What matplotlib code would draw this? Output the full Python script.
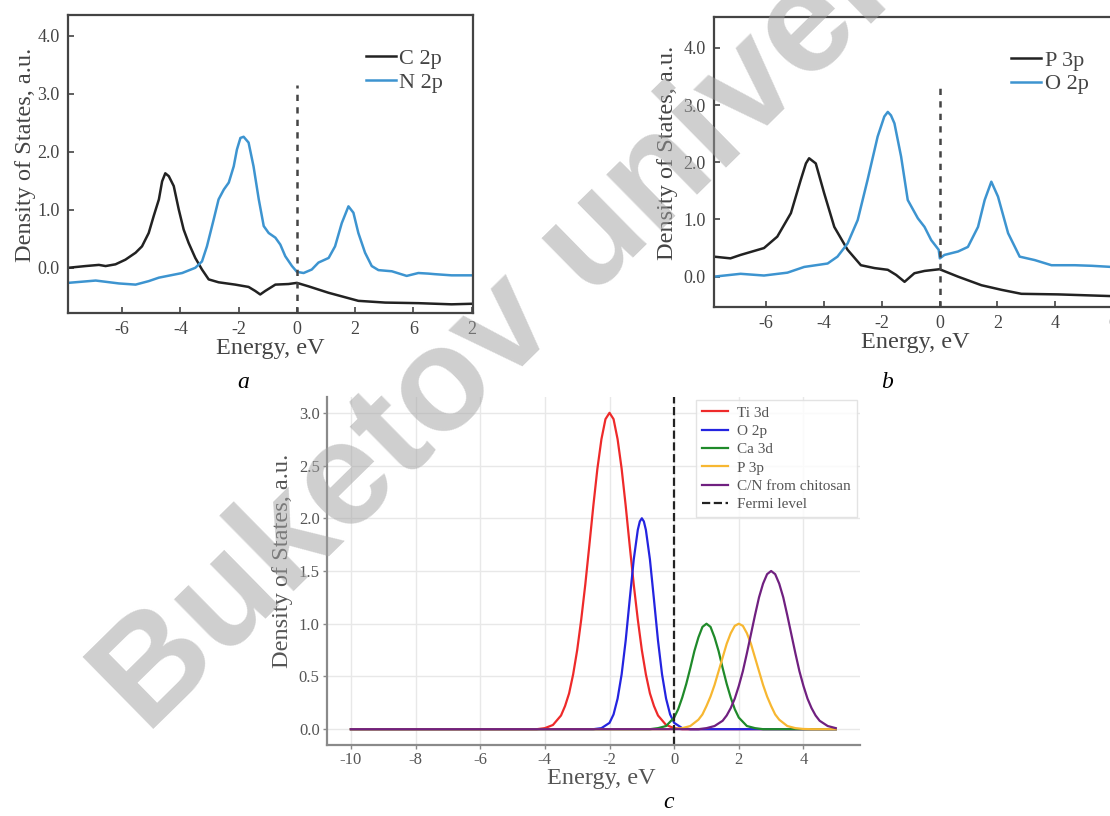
import matplotlib
matplotlib.use("Agg")
import matplotlib.pyplot as plt

plt.rcParams["font.family"] = ["Liberation Serif", "DejaVu Serif"]
plt.rcParams["axes.unicode_minus"] = False

# ---- panel a: C 2p / N 2p ----
c2p_x = [-7.86, -7.26, -6.8, -6.57, -6.23, -5.89, -5.54, -5.32, -5.09, -4.92, -4.74, -4.63, -4.52,
         -4.4, -4.23, -4.06, -3.89, -3.72, -3.49, -3.26, -3.03, -2.69, -2.12, -1.66, -1.43, -1.26,
         -1.09, -0.74, -0.29, 0.0, 0.4, 1.08, 2.11, 3.03, 4.17, 5.31, 6.05]
c2p_y = [0.0, 0.03, 0.05, 0.03, 0.06, 0.14, 0.26, 0.37, 0.60, 0.89, 1.18, 1.49, 1.63,
         1.58, 1.41, 1.01, 0.66, 0.43, 0.17, -0.03, -0.2, -0.25, -0.29, -0.33, -0.40, -0.46,
         -0.40, -0.29, -0.28, -0.26, -0.32, -0.43, -0.57, -0.60, -0.61, -0.63, -0.62]
n2p_x = [-7.86, -6.91, -6.11, -5.54, -5.09, -4.74, -3.94, -3.49, -3.26, -3.09, -2.86, -2.69, -2.51,
         -2.34, -2.17, -2.06, -1.94, -1.83, -1.66, -1.49, -1.31, -1.14, -0.97, -0.74, -0.57, -0.40,
         -0.17, 0.0, 0.23, 0.51, 0.74, 1.09, 1.31, 1.54, 1.77, 1.94, 2.11, 2.34, 2.57, 2.80, 3.26,
         3.77, 4.17, 4.51, 4.74, 5.31, 6.05]
n2p_y = [-0.26, -0.22, -0.27, -0.29, -0.23, -0.17, -0.09, 0.0, 0.11, 0.37, 0.83, 1.18, 1.35,
         1.47, 1.75, 2.04, 2.24, 2.26, 2.16, 1.75, 1.18, 0.72, 0.60, 0.52, 0.40, 0.20,
         0.03, -0.07, -0.09, -0.03, 0.09, 0.17, 0.37, 0.77, 1.06, 0.95, 0.60, 0.26, 0.03, -0.04, -0.06,
         -0.14, -0.09, -0.10, -0.11, -0.13, -0.13]
a_ticks = [-6, -4, -2, 0, 2, 4, 6]
a_ticklabels = ["-6", "-4", "-2", "0", "2", "6", "2"]
a_fermi_top = 3.15

# ---- panel b: P 3p / O 2p ----
p3p_x = [-7.8, -7.23, -6.88, -6.07, -5.61, -5.14, -4.80, -4.62, -4.51, -4.28, -3.99, -3.64, -3.18,
         -2.72, -2.25, -1.79, -1.50, -1.21, -0.87, -0.52, 0.0, 0.64, 1.45, 2.14, 2.83, 4.10, 5.95, 6.1]
p3p_y = [0.35, 0.32, 0.38, 0.50, 0.70, 1.11, 1.69, 1.98, 2.07, 1.98, 1.46, 0.87, 0.47,
         0.20, 0.15, 0.12, 0.03, -0.09, 0.06, 0.10, 0.13, 0.0, -0.15, -0.23, -0.30, -0.31, -0.34, -0.34]
o2p_x = [-7.8, -6.88, -6.07, -5.26, -4.68, -3.87, -3.53, -3.18, -2.83, -2.49, -2.14, -1.91, -1.79,
         -1.68, -1.56, -1.33, -1.10, -0.75, -0.52, -0.29, -0.03, 0.01, 0.17, 0.64, 0.98, 1.33, 1.56,
         1.79, 2.02, 2.37, 2.77, 3.29, 3.87, 4.68, 5.26, 5.95, 6.1]
o2p_y = [0.0, 0.05, 0.02, 0.07, 0.17, 0.23, 0.35, 0.58, 0.99, 1.69, 2.45, 2.80, 2.88,
         2.82, 2.68, 2.10, 1.34, 1.02, 0.87, 0.64, 0.47, 0.32, 0.38, 0.44, 0.52, 0.87, 1.34,
         1.66, 1.40, 0.76, 0.35, 0.29, 0.20, 0.20, 0.19, 0.17, 0.17]
b_ticks = [-6, -4, -2, 0, 2, 4, 6]
b_fermi_top = 3.35

# ---- panel c: model DOS ----
ti_x = [-10, -4.25, -4.0, -3.75, -3.5, -3.375, -3.25, -3.125, -3.0, -2.875, -2.75, -2.625, -2.5,
        -2.375, -2.25, -2.125, -2.0, -1.875, -1.75, -1.625, -1.5, -1.375, -1.25, -1.125, -1.0,
        -0.875, -0.75, -0.625, -0.5, -0.25, 0.0, 0.25, 5]
ti_y = [0, 0, 0.01, 0.04, 0.13, 0.22, 0.34, 0.52, 0.75, 1.04, 1.37, 1.74, 2.12,
        2.47, 2.75, 2.94, 3.0, 2.94, 2.75, 2.47, 2.12, 1.74, 1.37, 1.04, 0.75,
        0.52, 0.34, 0.22, 0.13, 0.04, 0.01, 0, 0]
o_x = [-10, -2.5, -2.25, -2.0, -1.875, -1.75, -1.625, -1.5, -1.375, -1.25, -1.125, -1.0625, -1.0,
       -0.9375, -0.875, -0.75, -0.625, -0.5, -0.375, -0.25, -0.125, 0.0, 0.25, 0.5, 5]
o_y = [0, 0, 0.01, 0.06, 0.14, 0.29, 0.52, 0.84, 1.23, 1.61, 1.89, 1.97, 2.0,
       1.97, 1.89, 1.61, 1.23, 0.84, 0.52, 0.29, 0.14, 0.06, 0.01, 0, 0]
ca_x = [-10, -0.75, -0.5, -0.25, 0, 0.125, 0.25, 0.375, 0.5, 0.625, 0.75, 0.875, 1.0, 1.125,
        1.25, 1.375, 1.5, 1.625, 1.75, 1.875, 2.0, 2.25, 2.5, 2.75, 5]
ca_y = [0, 0, 0.01, 0.03, 0.11, 0.19, 0.30, 0.43, 0.58, 0.74, 0.87, 0.97, 1.0, 0.97,
        0.87, 0.74, 0.58, 0.43, 0.30, 0.19, 0.11, 0.03, 0.01, 0, 0]
p_x = [-10, -0.25, 0, 0.25, 0.5, 0.75, 0.875, 1.0, 1.125, 1.25, 1.375, 1.5, 1.625, 1.75, 1.875,
       2.0, 2.125, 2.25, 2.375, 2.5, 2.625, 2.75, 2.875, 3.0, 3.125, 3.25, 3.5, 3.75, 4.0, 4.25, 5]
p_y = [0, 0, 0.002, 0.01, 0.03, 0.09, 0.14, 0.22, 0.31, 0.42, 0.55, 0.68, 0.81, 0.91, 0.98,
       1.0, 0.98, 0.91, 0.81, 0.68, 0.55, 0.42, 0.31, 0.22, 0.14, 0.09, 0.03, 0.01, 0.002, 0, 0]
cn_x = [-10, 0.75, 1.0, 1.25, 1.5, 1.625, 1.75, 1.875, 2.0, 2.125, 2.25, 2.375, 2.5, 2.625, 2.75,
        2.875, 3.0, 3.125, 3.25, 3.375, 3.5, 3.625, 3.75, 3.875, 4.0, 4.125, 4.25, 4.375, 4.5,
        4.75, 5.0]
cn_y = [0, 0, 0.01, 0.03, 0.08, 0.13, 0.20, 0.29, 0.41, 0.55, 0.72, 0.90, 1.08, 1.25, 1.38,
        1.47, 1.5, 1.47, 1.38, 1.25, 1.08, 0.90, 0.72, 0.55, 0.41, 0.29, 0.20, 0.13, 0.08,
        0.03, 0.01]
c_labels = ["Ti 3d", "O 2p", "Ca 3d", "P 3p", "C/N from chitosan"]
c_colors = ["#ee2a2a", "#2424e0", "#1f8a2a", "#f7b731", "#702080"]

blue = "#3d94d0"
dark = "#222222"

fig = plt.figure(figsize=(11.1, 8.16), dpi=100)


def style_ab(ax, label_x):
    for s in ax.spines.values():
        s.set_color("#444444")
        s.set_linewidth(1.6)
    ax.tick_params(direction="in", length=4, width=1.2, colors="#444444",
                   labelsize=13, labelcolor="#444444", pad=6)
    ax.set_yticks([0, 1, 2, 3, 4])
    ax.set_yticklabels(["0.0", "1.0", "2.0", "3.0", "4.0"])
    ax.set_xlabel("Energy, eV", fontsize=17.5, color="#444444", labelpad=0)
    ax.set_ylabel("Density of States, a.u.", fontsize=17.5, color="#444444")
    ax.yaxis.set_label_coords(label_x, 0.53)


# panel a
ax_a = fig.add_axes([0.0613, 0.6164, 0.3649, 0.3652])
ax_a.plot(c2p_x, c2p_y, color=dark, lw=1.8, label="C 2p")
ax_a.plot(n2p_x, n2p_y, color=blue, lw=1.8, label="N 2p")
ax_a.plot([0, 0], [-0.78, a_fermi_top], color="#444444", lw=1.8, ls=(0, (2.5, 2.5)))
ax_a.set_xlim(-7.86, 6.05)
ax_a.set_ylim(-0.78, 4.36)
ax_a.set_xticks(a_ticks)
ax_a.set_xticklabels(a_ticklabels)
style_ab(ax_a, -0.08)
ax_a.legend(loc="upper right", frameon=False, fontsize=16, handlelength=1.35,
            handletextpad=0.15, labelspacing=0.15, bbox_to_anchor=(0.975, 0.955),
            labelcolor="#444444")

# panel b
ax_b = fig.add_axes([0.6432, 0.6238, 0.3622, 0.3554])
ax_b.plot(p3p_x, p3p_y, color=dark, lw=1.8, label="P 3p")
ax_b.plot(o2p_x, o2p_y, color=blue, lw=1.8, label="O 2p")
ax_b.plot([0, 0], [-0.53, b_fermi_top], color="#444444", lw=1.8, ls=(0, (2.5, 2.5)))
ax_b.set_xlim(-7.8, 6.1)
ax_b.set_ylim(-0.53, 4.54)
ax_b.set_xticks(b_ticks)
style_ab(ax_b, -0.09)
ax_b.legend(loc="upper left", frameon=False, fontsize=16, handlelength=1.35,
            handletextpad=0.15, labelspacing=0.15, bbox_to_anchor=(0.69, 0.955),
            labelcolor="#444444")

# panel c
ax_c = fig.add_axes([0.2943, 0.0870, 0.4805, 0.4265])
series = [(ti_x, ti_y), (o_x, o_y), (ca_x, ca_y), (p_x, p_y), (cn_x, cn_y)]
for (xs, ys), lab, col in zip(series, c_labels, c_colors):
    ax_c.plot(xs, ys, color=col, lw=1.6, label=lab)
ax_c.axvline(0, color="#222222", lw=1.6, ls="--", label="Fermi level")
ax_c.set_xlim(-10.75, 5.75)
ax_c.set_ylim(-0.15, 3.15)
ax_c.set_xticks([-10, -8, -6, -4, -2, 0, 2, 4])
ax_c.set_yticks([0, 0.5, 1.0, 1.5, 2.0, 2.5, 3.0])
ax_c.grid(True, color="#e8e8e8", lw=1.0)
ax_c.set_axisbelow(True)
for side in ["top", "right"]:
    ax_c.spines[side].set_visible(False)
for side in ["left", "bottom"]:
    ax_c.spines[side].set_color("#8a8a8a")
    ax_c.spines[side].set_linewidth(1.6)
ax_c.tick_params(direction="out", length=3, width=1, colors="#8a8a8a",
                 labelsize=12, labelcolor="#555555", pad=2)
ax_c.set_xlabel("Energy, eV", fontsize=17.5, color="#555555")
ax_c.set_ylabel("Density of States, a.u.", fontsize=17.5, color="#555555")
ax_c.yaxis.set_label_coords(-0.063, 0.53)
ax_c.xaxis.set_label_coords(0.515, -0.066)
leg = ax_c.legend(loc="upper right", fontsize=11, frameon=True, fancybox=False,
                  edgecolor="#dddddd", handlelength=1.7, labelspacing=0.3,
                  handletextpad=0.6, borderaxespad=0.2, labelcolor="#555555")

# captions
fig.text(243 / 1110, 1 - 383 / 816, "a", fontsize=17, style="italic", ha="center", va="center")
fig.text(887 / 1110, 1 - 383 / 816, "b", fontsize=17, style="italic", ha="center", va="center")
fig.text(669 / 1110, 1 - 802 / 816, "c", fontsize=17, style="italic", ha="center", va="center")

# watermark
fig.text(0.1324, 0.098, "Buketov university", rotation=44.5, rotation_mode="anchor",
         ha="left", va="baseline", fontsize=106, fontweight="bold", color="#a0a0a0",
         alpha=0.5, family="Liberation Sans")

fig.savefig("out.png", dpi=100)
